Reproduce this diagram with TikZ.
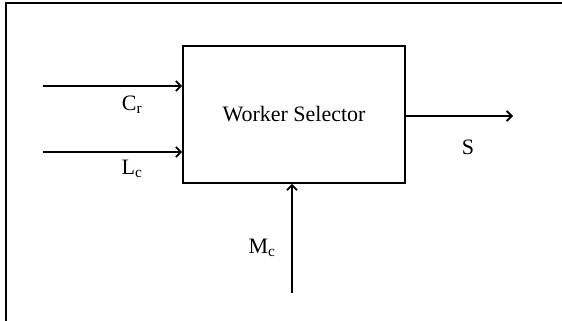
\documentclass[tikz,border=0pt]{standalone}
\usepackage{fontspec}
\setmainfont{Liberation Serif}
\usetikzlibrary{arrows.meta}
\begin{document}
\begin{tikzpicture}[x=1pt,y=-1pt, line width=1.8pt,
  conn/.style={-{Straight Barb[length=5pt,width=10pt]}},
  lbl/.style={font=\fontsize{22}{26}\selectfont, inner sep=0pt},
  blockbox/.style={draw, minimum width=222pt, minimum height=137pt, inner sep=0pt, font=\fontsize{22}{26}\selectfont}]
\useasboundingbox (0,0) rectangle (562,321);
\draw[line width=1.6pt] (6,321) -- (6,3) -- (562,3);
\node[blockbox] (ws) at (294,114.5) {Worker Selector};
\coordinate (cr) at (43,86);
\coordinate (lc) at (43,152);
\coordinate (s) at (513,116);
\coordinate (mc) at (292,293);
\draw[conn] (cr) -- (cr -| ws.west);
\draw[conn] (lc) -- (lc -| ws.west);
\draw[conn] (ws.east |- s) -- (s);
\draw[conn] (mc) -- (mc |- ws.south);
\node[lbl] (crl) at (132,105) {C\textsubscript{r}};
\node[lbl] (lcl) at (132,169) {L\textsubscript{c}};
\node[lbl] (sl) at (468,147) {S};
\node[lbl] (mcl) at (262,248) {M\textsubscript{c}};
\end{tikzpicture}
\end{document}
